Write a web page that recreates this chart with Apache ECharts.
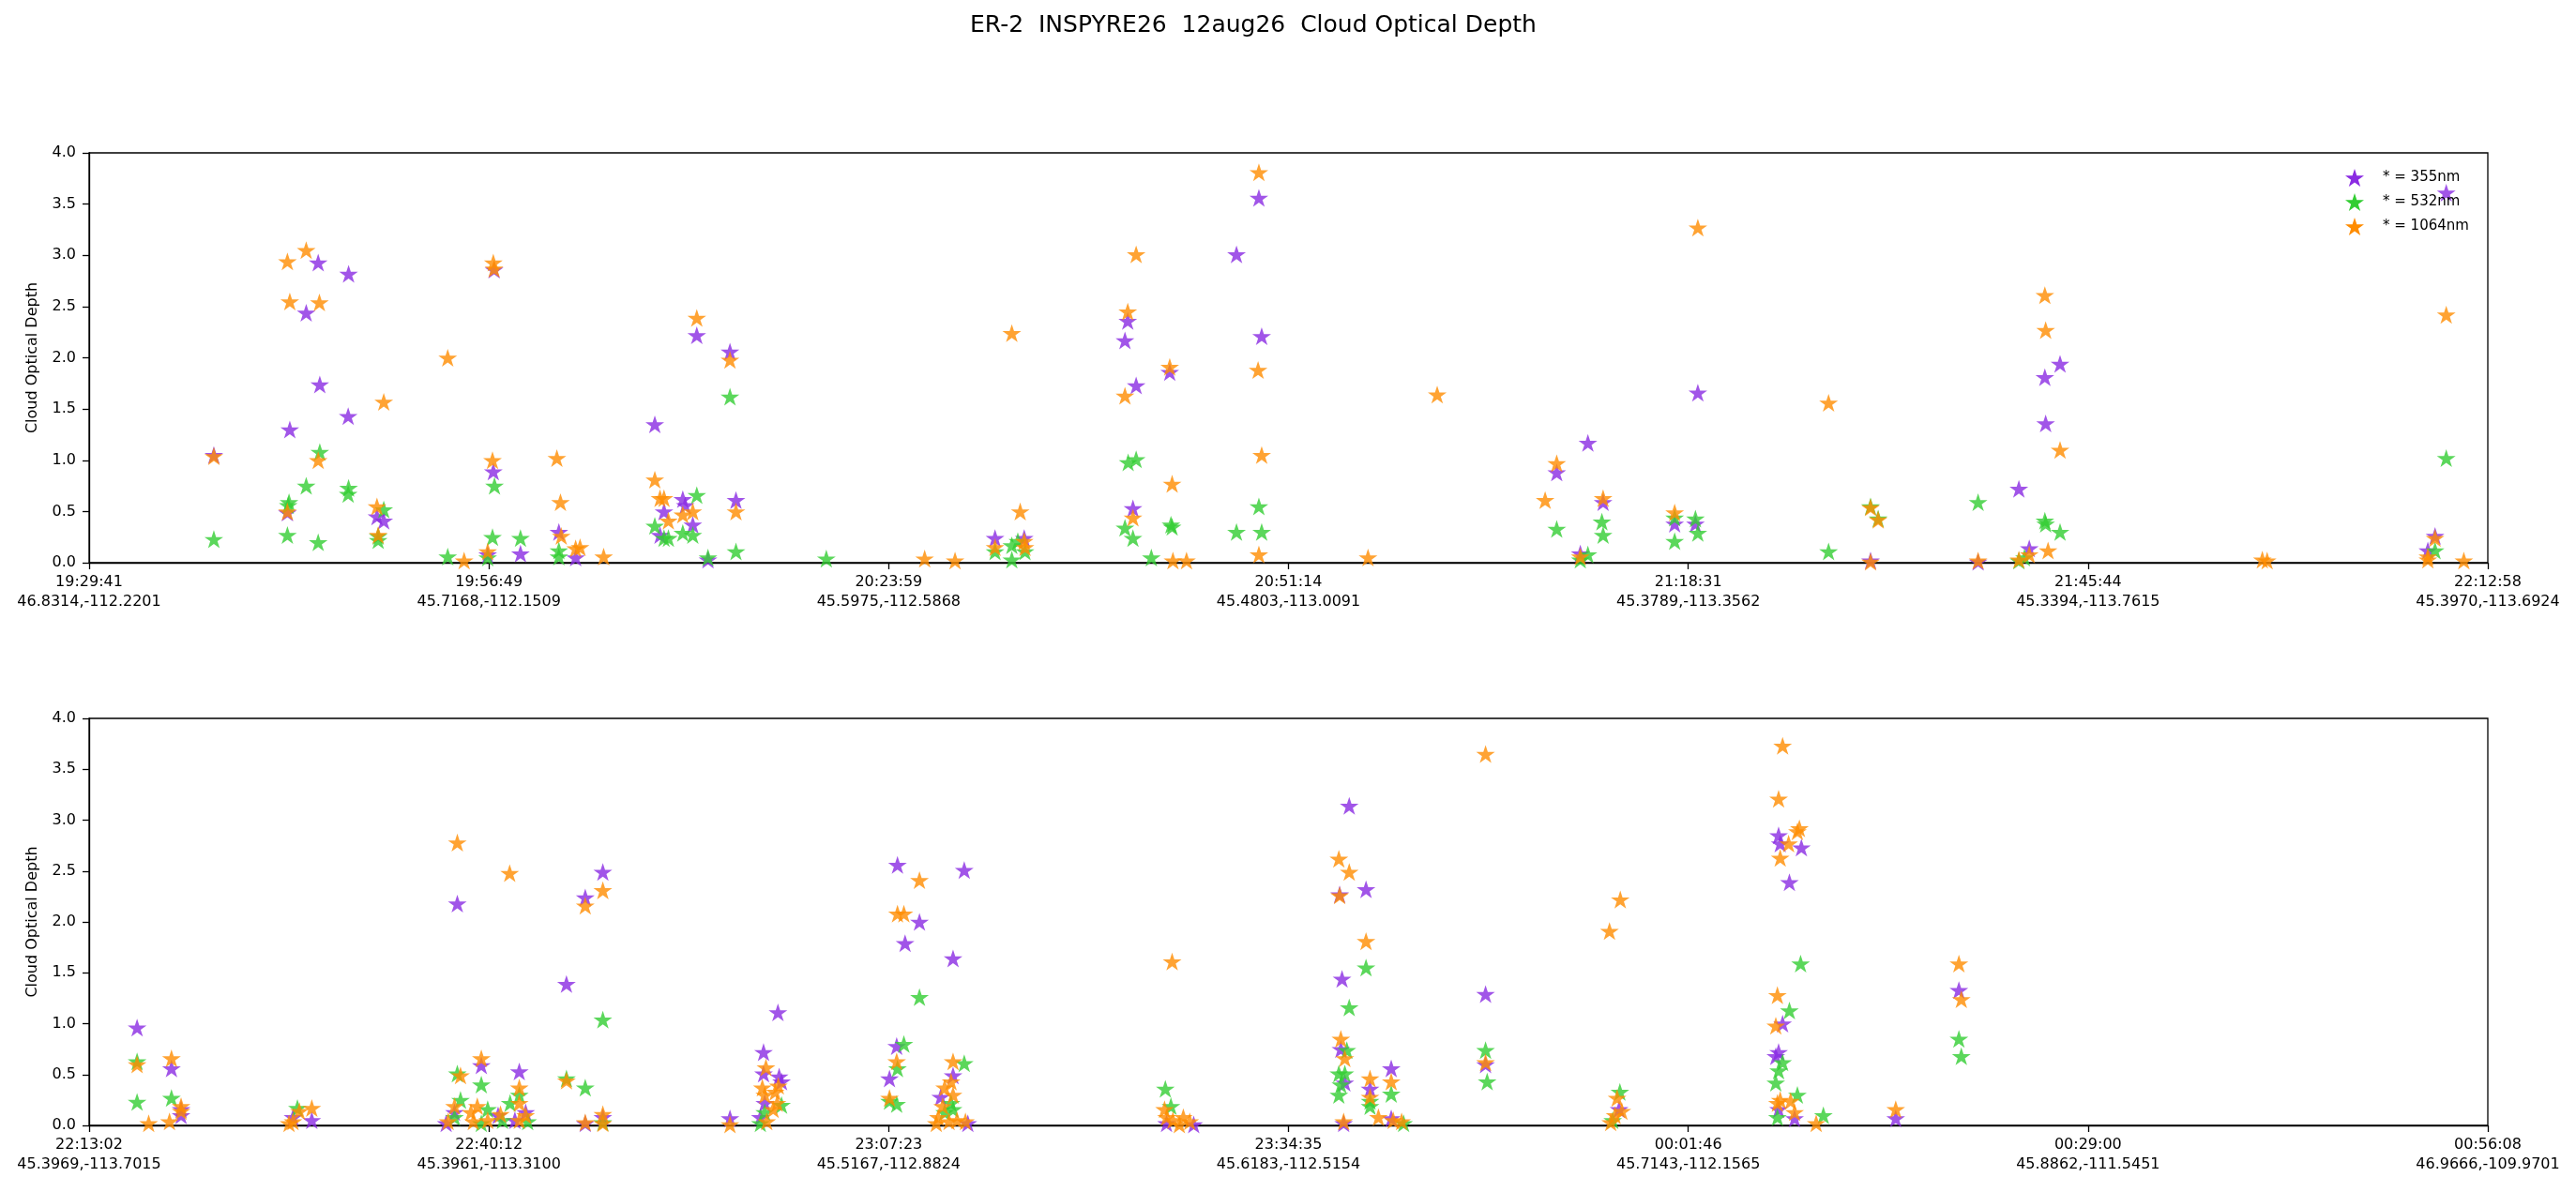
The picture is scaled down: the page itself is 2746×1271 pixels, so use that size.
<!DOCTYPE html>
<html>
<head>
<meta charset="utf-8">
<title>ER-2 INSPYRE26 12aug26 Cloud Optical Depth</title>
<script src="https://cdn.jsdelivr.net/npm/echarts@6/dist/echarts.min.js"></script>
<style>
  html, body { margin: 0; padding: 0; background: #fff; }
  #chart { width: 2746px; height: 1271px; }
</style>
</head>
<body>
<div id="chart"></div>
<script>
// x values are in "tick" units: 0..6, one unit per labelled tick
var topTimes = ["19:29:41", "19:56:49", "20:23:59", "20:51:14", "21:18:31", "21:45:44", "22:12:58"];
var topCoords = ["46.8314,-112.2201", "45.7168,-112.1509", "45.5975,-112.5868", "45.4803,-113.0091",
  "45.3789,-113.3562", "45.3394,-113.7615", "45.3970,-113.6924"];
var botTimes = ["22:13:02", "22:40:12", "23:07:23", "23:34:35", "00:01:46", "00:29:00", "00:56:08"];
var botCoords = ["45.3969,-113.7015", "45.3961,-113.3100", "45.5167,-112.8824", "45.6183,-112.5154",
  "45.7143,-112.1565", "45.8862,-111.5451", "46.9666,-109.9701"];

var names = ["* = 355nm", "* = 532nm", "* = 1064nm"];
var colors = ["#8a2be2", "#32cd32", "#ff8c00"];

var top355 = [[0.312,1.05],[0.573,2.93],[0.649,2.82],[0.543,2.44],[0.577,1.74],[0.648,1.43],[0.502,1.30],
  [0.496,0.49],[0.720,0.45],[0.737,0.41],[1.013,2.86],[1.011,0.89],[0.997,0.08],[1.079,0.09],[1.175,0.30],
  [1.217,0.05],[1.415,1.35],[1.438,0.50],[1.428,0.27],[1.485,0.62],[1.491,0.56],[1.510,0.37],[1.520,2.22],
  [1.603,2.06],[1.618,0.61],[1.548,0.03],[2.266,0.24],[2.339,0.24],[2.598,2.36],[2.591,2.17],[2.619,1.73],
  [2.703,1.86],[2.611,0.53],[2.870,3.01],[2.926,3.56],[2.933,2.21],[3.671,0.88],[3.749,1.17],[3.730,0.09],
  [3.787,0.59],[3.966,0.38],[4.018,0.38],[4.024,1.66],[4.456,0.02],[4.725,0.01],[4.827,0.72],[4.853,0.14],
  [4.892,1.81],[4.894,1.36],[4.930,1.94],[5.850,0.12],[5.868,0.26],[5.896,3.61]];
var top532 = [[0.312,0.23],[0.577,1.08],[0.543,0.75],[0.649,0.73],[0.648,0.67],[0.500,0.59],[0.498,0.56],
  [0.496,0.27],[0.573,0.20],[0.737,0.52],[0.723,0.26],[0.723,0.22],[0.897,0.06],[1.014,0.75],[1.009,0.25],
  [0.997,0.05],[1.079,0.24],[1.175,0.12],[1.175,0.06],[1.415,0.36],[1.438,0.24],[1.449,0.24],[1.520,0.66],
  [1.485,0.29],[1.510,0.27],[1.603,1.62],[1.618,0.11],[1.548,0.05],[1.844,0.04],[2.266,0.11],[2.308,0.17],
  [2.308,0.03],[2.323,0.21],[2.341,0.11],[2.599,0.98],[2.619,1.01],[2.591,0.34],[2.611,0.24],[2.706,0.37],
  [2.709,0.35],[2.657,0.05],[2.926,0.55],[2.870,0.30],[2.933,0.30],[3.671,0.33],[3.749,0.08],[3.730,0.03],
  [3.784,0.40],[3.787,0.27],[3.966,0.44],[3.966,0.21],[4.018,0.43],[4.024,0.29],[4.351,0.11],[4.456,0.55],
  [4.475,0.43],[4.725,0.59],[4.827,0.02],[4.841,0.05],[4.892,0.41],[4.894,0.38],[4.930,0.30],[5.868,0.12],
  [5.896,1.02]];
var top1064 = [[0.312,1.04],[0.496,2.94],[0.543,3.05],[0.502,2.55],[0.576,2.54],[0.737,1.57],[0.573,1.00],
  [0.496,0.50],[0.720,0.55],[0.723,0.27],[0.897,2.00],[0.938,0.02],[1.011,2.93],[1.013,2.87],[1.009,1.00],
  [0.997,0.11],[1.170,1.02],[1.179,0.59],[1.181,0.26],[1.228,0.15],[1.217,0.14],[1.287,0.06],[1.415,0.81],
  [1.428,0.63],[1.438,0.63],[1.449,0.41],[1.485,0.47],[1.510,0.50],[1.520,2.39],[1.603,1.98],[1.618,0.50],
  [2.090,0.04],[2.166,0.02],[2.266,0.15],[2.308,2.24],[2.329,0.50],[2.339,0.21],[2.341,0.15],[2.598,2.45],
  [2.619,3.01],[2.591,1.63],[2.703,1.91],[2.709,0.77],[2.611,0.44],[2.711,0.02],[2.745,0.02],[2.926,3.81],
  [2.924,1.88],[2.933,1.05],[2.926,0.08],[3.199,0.05],[3.372,1.64],[3.642,0.61],[3.671,0.97],[3.730,0.06],
  [3.787,0.63],[3.966,0.49],[4.024,3.27],[4.351,1.56],[4.456,0.54],[4.475,0.42],[4.456,0.01],[4.725,0.02],
  [4.827,0.03],[4.853,0.08],[4.892,2.61],[4.894,2.27],[4.930,1.10],[4.900,0.12],[5.436,0.03],[5.448,0.02],
  [5.850,0.06],[5.850,0.03],[5.868,0.24],[5.896,2.42],[5.940,0.02]];

var bot355 = [[0.120,0.96],[0.206,0.56],[0.230,0.16],[0.230,0.10],[0.557,0.05],[0.510,0.08],[0.921,2.18],
  [0.981,0.59],[1.076,0.53],[0.914,0.13],[0.893,0.02],[1.023,0.10],[1.092,0.13],[1.065,0.05],[1.194,1.39],
  [1.241,2.24],[1.241,0.02],[1.285,2.49],[1.285,0.08],[1.603,0.07],[1.687,0.72],[1.723,1.11],[1.687,0.51],
  [1.726,0.48],[1.732,0.43],[1.690,0.22],[1.679,0.08],[2.022,2.56],[2.189,2.51],[2.077,2.00],[2.041,1.79],
  [2.161,1.64],[2.020,0.78],[2.002,0.46],[2.161,0.49],[2.130,0.28],[2.198,0.02],[2.695,0.02],[2.763,0.01],
  [3.152,3.14],[3.128,2.27],[3.194,2.32],[3.134,1.44],[3.131,0.75],[3.141,0.42],[3.138,0.02],[3.204,0.36],
  [3.257,0.56],[3.257,0.07],[3.493,1.29],[3.493,0.60],[3.827,0.16],[4.226,2.85],[4.230,2.77],[4.283,2.73],
  [4.253,2.39],[4.236,1.00],[4.226,0.72],[4.219,0.68],[4.226,0.16],[4.266,0.07],[4.519,0.07],[4.677,1.33]];
var bot532 = [[0.120,0.63],[0.120,0.23],[0.206,0.27],[0.521,0.17],[0.921,0.51],[0.981,0.40],[1.076,0.30],
  [1.053,0.22],[0.929,0.25],[0.914,0.08],[0.997,0.16],[1.034,0.05],[1.097,0.04],[0.981,0.02],[1.194,0.46],
  [1.241,0.37],[1.285,1.04],[1.285,0.03],[1.732,0.20],[1.690,0.13],[1.679,0.02],[2.077,1.26],[2.038,0.80],
  [2.022,0.56],[2.020,0.21],[2.002,0.24],[2.189,0.61],[2.156,0.22],[2.161,0.16],[2.140,0.13],[2.692,0.36],
  [2.706,0.19],[3.194,1.55],[3.152,1.16],[3.146,0.74],[3.126,0.51],[3.141,0.51],[3.131,0.40],[3.126,0.30],
  [3.204,0.19],[3.204,0.24],[3.257,0.31],[3.288,0.02],[3.493,0.74],[3.497,0.43],[3.829,0.33],[3.811,0.05],
  [4.281,1.59],[4.253,1.13],[4.236,0.62],[4.226,0.54],[4.219,0.42],[4.273,0.30],[4.223,0.08],[4.338,0.10],
  [4.677,0.85],[4.683,0.68]];
var bot1064 = [[0.120,0.60],[0.149,0.02],[0.206,0.66],[0.201,0.04],[0.230,0.19],[0.230,0.14],[0.500,0.02],
  [0.510,0.04],[0.526,0.14],[0.557,0.17],[0.921,2.78],[1.052,2.48],[0.981,0.66],[0.929,0.49],[1.076,0.37],
  [1.076,0.22],[0.914,0.19],[0.898,0.04],[0.971,0.19],[0.955,0.13],[1.029,0.11],[0.997,0.05],[1.092,0.10],
  [1.076,0.05],[0.961,0.04],[1.194,0.44],[1.241,2.16],[1.241,0.03],[1.285,2.31],[1.285,0.11],[1.285,0.02],
  [1.603,0.01],[1.693,0.57],[1.684,0.37],[1.690,0.30],[1.724,0.39],[1.716,0.33],[1.721,0.22],[1.711,0.16],
  [1.695,0.04],[2.077,2.41],[2.022,2.08],[2.038,2.08],[2.020,0.63],[2.002,0.27],[2.161,0.63],[2.156,0.43],
  [2.140,0.37],[2.161,0.30],[2.135,0.19],[2.124,0.08],[2.119,0.02],[2.151,0.04],[2.171,0.05],[2.192,0.04],
  [2.709,1.61],[2.690,0.16],[2.695,0.08],[2.711,0.05],[2.737,0.08],[2.753,0.04],[2.727,0.01],[3.126,2.62],
  [3.152,2.49],[3.128,2.26],[3.194,1.81],[3.131,0.85],[3.141,0.66],[3.138,0.04],[3.204,0.46],[3.204,0.28],
  [3.225,0.08],[3.257,0.43],[3.262,0.05],[3.283,0.04],[3.493,3.65],[3.493,0.62],[3.830,2.22],[3.803,1.91],
  [3.822,0.27],[3.834,0.14],[3.817,0.10],[3.806,0.03],[4.236,3.73],[4.226,3.21],[4.278,2.92],[4.273,2.89],
  [4.251,2.77],[4.230,2.63],[4.223,1.28],[4.219,0.98],[4.223,0.22],[4.230,0.25],[4.256,0.24],[4.266,0.13],
  [4.320,0.02],[4.519,0.16],[4.677,1.59],[4.683,1.24]];

// matplotlib-like "*" marker
function starPath() {
  var pts = [];
  for (var k = 0; k < 10; k++) {
    var a = (-90 + k * 36) * Math.PI / 180;
    var r = k % 2 === 0 ? 100 : 38.2;
    pts.push((r * Math.cos(a)).toFixed(2) + " " + (r * Math.sin(a)).toFixed(2));
  }
  return "path://M" + pts.join(" L") + " Z";
}
var star = starPath();
var font = "DejaVu Sans";

function xAxisFor(grid, times, coords) {
  return {
    type: "value", gridIndex: grid, min: 0, max: 6, interval: 1,
    axisLine: { show: true, onZero: false, lineStyle: { color: "#000", width: 1.3 } },
    axisTick: { show: true, length: 7, lineStyle: { color: "#000", width: 1.3 } },
    axisLabel: {
      margin: 10, color: "#000", fontFamily: font, fontSize: 16, lineHeight: 21,
      showMinLabel: true, showMaxLabel: true,
      formatter: function (v) { var i = Math.round(v); return times[i] + "\n" + coords[i]; }
    },
    splitLine: { show: false }
  };
}
function yAxisFor(grid) {
  return {
    type: "value", gridIndex: grid, min: 0, max: 4, interval: 0.5,
    name: "Cloud Optical Depth", nameLocation: "middle", nameGap: 52,
    nameTextStyle: { color: "#000", fontFamily: font, fontSize: 16 },
    axisLine: { show: true, lineStyle: { color: "#000", width: 1.3 } },
    axisTick: { show: true, length: 7, lineStyle: { color: "#000", width: 1.3 } },
    axisLabel: { margin: 14, color: "#000", fontFamily: font, fontSize: 16,
      formatter: function (v) { return v.toFixed(1); } },
    splitLine: { show: false }
  };
}
function scatter(i, grid, data) {
  return {
    name: names[i], type: "scatter", xAxisIndex: grid, yAxisIndex: grid,
    symbol: star, symbolSize: 20, symbolKeepAspect: true,
    itemStyle: { color: colors[i], opacity: 0.8 },
    data: data
  };
}

var chart = echarts.init(document.getElementById("chart"), null, { renderer: "canvas" });
var option = {
  animation: false,
  backgroundColor: "#fff",
  title: {
    text: "ER-2  INSPYRE26  12aug26  Cloud Optical Depth",
    left: 1029, top: 10,
    textStyle: { color: "#000", fontFamily: font, fontSize: 25, fontWeight: "normal" }
  },
  legend: {
    data: names, orient: "vertical", left: 2495, top: 175,
    itemWidth: 20, itemHeight: 20, itemGap: 7, icon: star,
    itemStyle: { opacity: 1 },
    textStyle: { color: "#000", fontFamily: font, fontSize: 15, padding: [0, 0, 0, 15] }
  },
  grid: [
    { left: 95, right: 94, top: 163, height: 437, show: true, borderColor: "#000", borderWidth: 1.3, containLabel: false },
    { left: 95, right: 94, top: 766, height: 434, show: true, borderColor: "#000", borderWidth: 1.3, containLabel: false }
  ],
  xAxis: [xAxisFor(0, topTimes, topCoords), xAxisFor(1, botTimes, botCoords)],
  yAxis: [yAxisFor(0), yAxisFor(1)],
  series: [
    scatter(0, 0, top355), scatter(1, 0, top532), scatter(2, 0, top1064),
    scatter(0, 1, bot355), scatter(1, 1, bot532), scatter(2, 1, bot1064)
  ]
};
chart.setOption(option);
</script>
</body>
</html>
